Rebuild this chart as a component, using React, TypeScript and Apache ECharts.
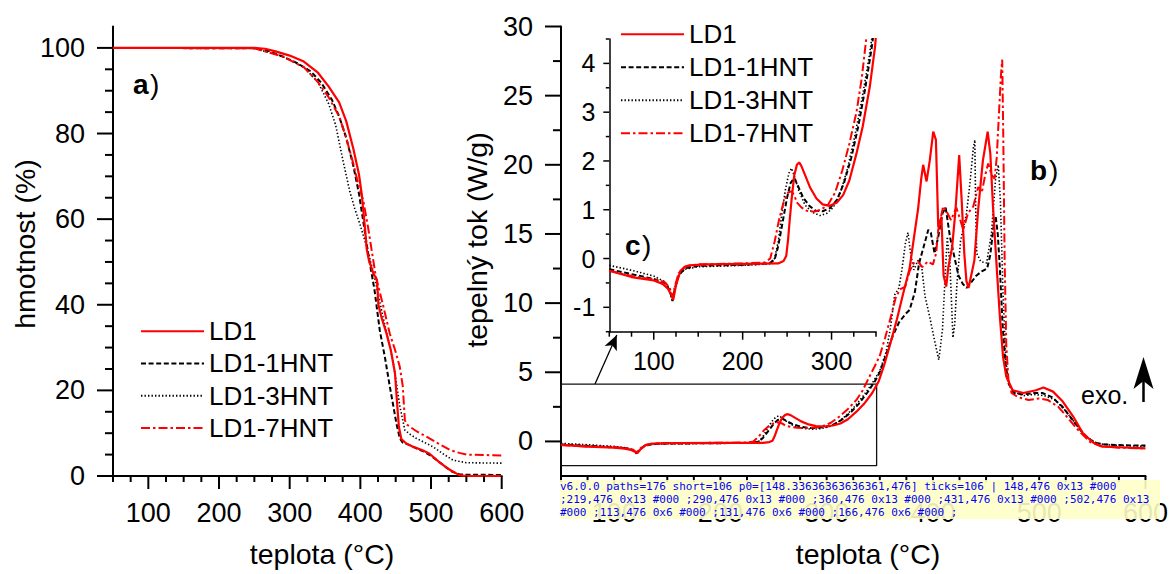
import React, { useEffect, useRef } from 'react';
import * as echarts from 'echarts';

const FONT = '"Liberation Sans", Arial, Helvetica, sans-serif';
const RED = '#ff0000';

const SAMPLE_NAMES = ['LD1', 'LD1-1HNT', 'LD1-3HNT', 'LD1-7HNT'];

// ---- Panel a: TGA (temperature °C, mass %) ----
const tgaLD1: number[][] = [[50,100],[250,100],[265,99.8],[280,99.2],[300,98.2],[320,96.8],[340,94.2],[355,91],[370,87.3],[380,82.9],[390,76.5],[398,70.5],[402,65.8],[406.5,58],[409,53],[412,50.5],[418,47.5],[423.5,45.8],[425.5,40],[430,37],[437,33.3],[443,29.5],[449,24],[452,17],[454.5,11.5],[458,8.6],[465,7.6],[475,6.8],[488,6],[498,5.2],[512,3.2],[526,1.5],[540,0.2],[550,0],[600,0]];
const tga1HNT: number[][] = [[50,100],[250,99.9],[270,99.3],[290,98],[310,96.5],[330,94.5],[345,91.8],[360,87.8],[370,84],[380,79],[390,72.5],[398,66],[405,58.5],[412,51],[420,43.5],[427.5,34],[435,27.5],[441.6,21],[447,16],[451,12.3],[455.8,8.8],[460,7.8],[470,7.2],[480,6.4],[490,5.7],[500,4.7],[510,3.5],[520,2.2],[530,1.0],[540,0.4],[550,0.3],[600,0.25]];
const tga3HNT: number[][] = [[50,100],[250,99.9],[290,98],[320,95.5],[340,92],[355,87],[365,82],[375,74],[385,66.5],[392,62.5],[400,58.5],[410,53],[420,46.5],[432,37.2],[446,27.1],[456,16.2],[463,10.7],[470,9.8],[479,8.8],[490,7.9],[503,6.8],[517,5.2],[531,3.7],[550,3.1],[600,3.0]];
const tga7HNT: number[][] = [[50,100],[250,99.9],[290,98],[320,95.5],[340,92],[355,88.5],[370,84],[380,79],[390,73],[398,67.5],[404,64.5],[411,58],[422,46.5],[432,40],[441.6,33.3],[449,29.5],[455.8,25.5],[460,21],[463,13],[466,12],[470,11.5],[480,10.4],[493.5,9.2],[510,7.6],[526.5,6.1],[540,5.4],[550,5.0],[600,4.8]];

// ---- Panels b / c: DSC (temperature °C, heat flow W/g) ----
const dscLD1: number[][] = [[50,-0.25],[75,-0.38],[100,-0.45],[110,-0.52],[116,-0.62],[120,-0.76],[122,-0.84],[125,-0.55],[130,-0.25],[135,-0.17],[140,-0.14],[160,-0.12],[200,-0.11],[240,-0.1],[246,-0.05],[249,0.05],[251,0.37],[253,0.8],[255,1.2],[258,1.7],[261,1.92],[263.5,1.97],[266,1.9],[270,1.72],[276,1.45],[283,1.23],[290,1.11],[298,1.08],[306,1.15],[313,1.3],[320,1.6],[328,2.15],[335,2.7],[343,3.52],[349,4.35],[354,5.5],[360,7.1],[366,8.8],[372,10.7],[378,12.5],[383,15.2],[386,16.8],[389,19.0],[390.8,20.0],[394,18.8],[397,20.3],[400.3,22.4],[402.8,21.8],[405,15.5],[408,16.2],[410,12.0],[412.5,11.2],[414.5,12.6],[418,14.0],[421,16.5],[424.7,20.7],[427,17.5],[429.5,13.6],[431.5,11.6],[433.5,11.1],[436,12.0],[439,13.1],[442.5,16.7],[447,20.3],[451.5,22.4],[454,20.8],[456.5,17.0],[460,12.6],[463,9.0],[466,6.1],[469,4.7],[475,3.7],[485,3.5],[497,3.7],[504,3.9],[513,3.6],[522,2.9],[532,1.8],[541,0.6],[551,-0.1],[560,-0.38],[575,-0.42],[600,-0.5]];
const dsc1HNT: number[][] = [[50,-0.22],[75,-0.32],[100,-0.42],[112,-0.5],[118,-0.65],[121,-0.87],[124,-0.6],[128,-0.35],[135,-0.2],[150,-0.15],[200,-0.13],[230,-0.1],[236,-0.02],[240,0.25],[245,0.75],[250,1.25],[254,1.55],[258,1.65],[262,1.5],[268,1.25],[275,1.08],[282,0.98],[290,0.97],[298,1.03],[306,1.2],[314,1.55],[322,2.05],[330,2.7],[338,3.5],[345,4.3],[350,5.0],[356,6.3],[362,7.6],[368,8.6],[374,9.2],[378,9.5],[383,10.8],[387,12.9],[391,14.0],[395.6,15.3],[398,15.1],[401.5,13.6],[405,14.8],[409,16.5],[412,16.9],[416,14.8],[420,13.4],[424,12.0],[428,11.4],[431.6,11.1],[436,11.5],[441,12.0],[446,12.3],[451,12.5],[454,13.5],[457,15.5],[459,16.3],[461,15.0],[463,12.5],[465.5,8.5],[468,5.8],[471,4.2],[476,3.5],[485,3.4],[495,3.5],[503,3.5],[512,3.2],[522,2.5],[532,1.5],[542,0.5],[552,-0.1],[562,-0.22],[580,-0.28],[600,-0.3]];
const dsc3HNT: number[][] = [[50,-0.14],[75,-0.24],[100,-0.36],[112,-0.47],[118,-0.62],[121,-0.88],[124,-0.6],[128,-0.35],[135,-0.22],[150,-0.17],[200,-0.14],[230,-0.11],[236,0.0],[240,0.35],[244,0.9],[248,1.4],[252,1.75],[255,1.85],[258,1.7],[263,1.4],[270,1.1],[278,0.95],[287,0.88],[295,0.93],[302,1.05],[310,1.35],[318,1.85],[326,2.5],[334,3.25],[342,4.1],[350,5.1],[356,6.5],[360,8.2],[364,10.6],[368,11.1],[371,12.5],[374,14.3],[376.5,15.1],[379,13.6],[382,12.4],[386,13.1],[389.5,12.6],[392.5,10.5],[397,9.0],[401.5,7.3],[405.5,5.9],[409,8.1],[411.5,12.0],[413.5,14.8],[416,12.8],[418.8,7.5],[420.5,8.5],[422.5,11.3],[426,14.5],[431.6,16.5],[435,18.8],[438,21.2],[439.4,21.8],[440.2,17.0],[441.2,13.6],[445,13.0],[450.5,12.9],[455,15.0],[459,19.0],[461.5,20.0],[463.5,17.4],[466,10.7],[468.5,6.0],[471,4.2],[476,3.6],[485,3.3],[495,3.4],[505,3.3],[515,3.0],[525,2.2],[535,1.2],[545,0.3],[555,-0.15],[565,-0.25],[580,-0.3],[600,-0.35]];
const dsc7HNT: number[][] = [[50,-0.25],[75,-0.36],[100,-0.43],[112,-0.48],[118,-0.6],[121,-0.8],[124,-0.55],[128,-0.3],[135,-0.17],[150,-0.12],[200,-0.1],[225,-0.08],[231,0.0],[236,0.35],[241,0.8],[246,1.15],[251,1.35],[255,1.38],[258,1.3],[261,1.15],[266,1.05],[272,0.98],[280,0.96],[288,1.0],[296,1.1],[304,1.35],[312,1.8],[320,2.35],[328,3.0],[334,3.7],[339,4.5],[345,5.4],[350,6.2],[355,7.5],[360,8.9],[365,10.4],[369,11.0],[374,11.2],[378,12.3],[382,12.9],[386,13.0],[390,12.6],[395,13.0],[400,12.8],[403,13.6],[405,15.3],[409.6,17.0],[413,16.6],[417,16.0],[422,16.9],[425,16.2],[428.5,15.3],[433,16.5],[438,17.0],[442.6,18.4],[446,18.0],[449,19.2],[452,20.1],[455,19.3],[458,19.0],[460,20.5],[462,23.5],[464,26.5],[465.2,27.6],[466.2,22],[467.5,13],[469,7],[471,4.5],[474,3.5],[480,3.2],[490,3.0],[500,3.1],[508,3.0],[518,2.5],[528,1.6],[538,0.7],[548,-0.05],[558,-0.35],[575,-0.45],[600,-0.5]];

// zoom frame (region of panel b magnified in c) and arrow to the inset
const frameBox: number[][] = [[50,4.15],[347,4.15],[347,-1.75],[50,-1.75],[50,4.15]];
const frameArrow: number[][] = [[82,4.15],[102.5,7.7]];

// ---- tick values ----
const tempMajorTicks = [100, 200, 300, 400, 500, 600];
const tempMinorTicks = [50, 75, 125, 150, 175, 225, 250, 275, 325, 350, 375, 425, 450, 475, 525, 550, 575];
const massMajorTicks = [0, 20, 40, 60, 80, 100];
const massMinorTicks = [5, 10, 15, 25, 30, 35, 45, 50, 55, 65, 70, 75, 85, 90, 95];
const flowMajorTicks = [0, 5, 10, 15, 20, 25, 30];
const flowMinorTicks = [2.5, 7.5, 12.5, 17.5, 22.5, 27.5];
const insetTempMajorTicks = [100, 200, 300];
const insetTempMinorTicks = [50, 75, 125, 150, 175, 225, 250, 275, 325, 350];
const insetFlowMajorTicks = [-1, 0, 1, 2, 3, 4];
const insetFlowMinorTicks = [-1.5, -0.5, 0.5, 1.5, 2.5, 3.5, 4.5];

const STYLES: Record<string, any> = {
  'LD1': { color: RED, type: 'solid', width: 2.2 },
  'LD1-1HNT': { color: '#000', type: [5, 2.6], width: 2 },
  'LD1-3HNT': { color: '#000', type: [1.4, 2.1], width: 1.6 },
  'LD1-7HNT': { color: RED, type: [9, 3, 2.5, 3], width: 2 },
};

function lineSeries(name: string, data: number[][], axisIndex: number) {
  return {
    type: 'line', name, data,
    xAxisIndex: axisIndex, yAxisIndex: axisIndex,
    symbol: 'none', showSymbol: false, clip: true,
    lineStyle: { ...STYLES[name] },
    itemStyle: { color: STYLES[name].color },
    z: name === 'LD1' ? 4 : 3,
    animation: false,
  };
}

function valueAxis(pos: string, gridIndex: number, min: number, max: number, labels: number[], margin: number, fontSize: number, width: number) {
  return {
    type: 'value', position: pos, gridIndex, min, max,
    axisLine: { show: true, onZero: false, lineStyle: { color: '#000', width } },
    axisTick: { show: false },
    axisLabel: { show: true, customValues: labels, margin, fontSize, fontFamily: FONT, color: '#000' },
    splitLine: { show: false },
  };
}

function textEl(text: string, x: number, y: number, size: number, opts: any = {}) {
  return {
    type: 'text', x, y, rotation: opts.rotation || 0, z: 10,
    style: {
      text, fontSize: size, fontFamily: FONT, fill: '#000',
      fontWeight: opts.bold ? 'bold' : 'normal',
      textAlign: opts.align || 'center', textVerticalAlign: 'middle',
    },
  };
}

const GRIDS = [
  { left: 113, top: 26.5, width: 388.7, height: 449.5 },
  { left: 561, top: 26.5, width: 584.7, height: 449.5 },
  { left: 609.3, top: 39, width: 266.7, height: 292.7 },
];
// axis extents per grid: [xMin, xMax, yMin, yMax]
const EXTENTS = [[50, 600, 0, 105], [50, 600, -2.5, 30], [50, 350, -1.5, 4.5]];

// tick sets per grid: [gridIndex, values, dim, length, width]
const TICK_SETS: [number, number[], 'x' | 'y', number, number][] = [
  [0, tempMajorTicks, 'x', 13, 2], [0, tempMinorTicks, 'x', 6, 2],
  [0, massMajorTicks, 'y', 16, 2], [0, massMinorTicks, 'y', 8, 2],
  [1, tempMajorTicks, 'x', 13, 2], [1, tempMinorTicks, 'x', 6, 2],
  [1, flowMajorTicks, 'y', 16, 2], [1, flowMinorTicks, 'y', 8, 2],
  [2, insetTempMajorTicks, 'x', 8, 1.5], [2, insetTempMinorTicks, 'x', 5, 1.5],
  [2, insetFlowMajorTicks, 'y', 6, 1.5], [2, insetFlowMinorTicks, 'y', 3.5, 1.5],
];

export default function App() {
  const ref = useRef<HTMLDivElement>(null);
  const dbgRef = useRef<HTMLDivElement>(null);
  useEffect(() => {
    if (!ref.current) return;
    const chart = echarts.init(ref.current, undefined, { renderer: 'svg' });
    const legendBase = {
      orient: 'vertical', data: SAMPLE_NAMES, itemWidth: 63, itemHeight: 14,
      itemGap: 0, padding: 0, selectedMode: false,
      itemStyle: { color: 'rgba(0,0,0,0)', borderWidth: 0, opacity: 0 },
    };
    const baseGraphics: any[] = [
      textEl('hmotnost (%)', 25, 244, 28.5, { rotation: Math.PI / 2 }),
      textEl('tepelný tok (W/g)', 477, 240, 28.5, { rotation: Math.PI / 2 }),
      textEl('teplota (°C)', 322, 554, 28.5),
      textEl('teplota (°C)', 868, 554, 28.5),
      textEl('a', 133, 84, 28, { bold: true, align: 'left' }),
      textEl(')', 150, 84, 28, { align: 'left' }),
      textEl('b', 1030, 170, 28, { bold: true, align: 'left' }),
      textEl(')', 1049, 170, 28, { align: 'left' }),
      textEl('c', 625, 245, 28, { bold: true, align: 'left' }),
      textEl(')', 642, 245, 28, { align: 'left' }),
      textEl('exo.', 1081, 395, 25, { align: 'left' }),
      { type: 'line', z: 10, shape: { x1: 1143.5, y1: 402, x2: 1143.5, y2: 378 }, style: { stroke: '#000', lineWidth: 2.5 } },
      { type: 'polygon', z: 10, shape: { points: [[1143.5, 357], [1133.5, 389], [1143.5, 381], [1153.5, 389]] }, style: { fill: '#000' } },
    ];
    chart.setOption({
      animation: false,
      backgroundColor: '#fff',
      grid: GRIDS,
      xAxis: [
        valueAxis('bottom', 0, 50, 600, tempMajorTicks, 23, 27, 2),
        valueAxis('bottom', 1, 50, 600, tempMajorTicks, 23, 27, 2),
        valueAxis('bottom', 2, 50, 350, insetTempMajorTicks, 17, 25, 1.5),
      ],
      yAxis: [
        valueAxis('left', 0, 0, 105, massMajorTicks, 28, 27, 2),
        valueAxis('left', 1, -2.5, 30, flowMajorTicks, 28, 27, 2),
        valueAxis('left', 2, -1.5, 4.5, insetFlowMajorTicks, 14, 25, 1.5),
      ],
      legend: [
        { ...legendBase, left: 140, top: 315, textStyle: { fontSize: 26, fontFamily: FONT, color: '#000', lineHeight: 32.3 } },
        { ...legendBase, left: 620, top: 17.8, textStyle: { fontSize: 26, fontFamily: FONT, color: '#000', lineHeight: 33 } },
      ],
      series: [
        lineSeries('LD1', tgaLD1, 0),
        lineSeries('LD1-1HNT', tga1HNT, 0),
        lineSeries('LD1-3HNT', tga3HNT, 0),
        lineSeries('LD1-7HNT', tga7HNT, 0),
        lineSeries('LD1', dscLD1, 1),
        lineSeries('LD1-1HNT', dsc1HNT, 1),
        lineSeries('LD1-3HNT', dsc3HNT, 1),
        lineSeries('LD1-7HNT', dsc7HNT, 1),
        lineSeries('LD1', dscLD1, 2),
        lineSeries('LD1-1HNT', dsc1HNT, 2),
        lineSeries('LD1-3HNT', dsc3HNT, 2),
        lineSeries('LD1-7HNT', dsc7HNT, 2),
        {
          type: 'line', name: 'frame', data: frameBox, xAxisIndex: 1, yAxisIndex: 1,
          symbol: 'none', clip: false, z: 2, animation: false,
          lineStyle: { color: '#111', width: 1.3 },
          markLine: {
            silent: true, animation: false, symbol: ['none', 'arrow'], symbolSize: [10, 15],
            lineStyle: { color: '#000', width: 1.3, type: 'solid' },
            label: { show: false },
            data: [[{ coord: frameArrow[0] }, { coord: frameArrow[1] }]],
          },
        },
      ],
      graphic: baseGraphics,
    });

    const toPixel = (gi: number, pt: number[]): number[] => {
      let p: any = null;
      try { p = chart.convertToPixel({ gridIndex: gi }, pt); } catch (e) { p = null; }
      if (Array.isArray(p) && isFinite(p[0]) && isFinite(p[1])) return p;
      const g = GRIDS[gi];
      const [x0, x1, y0, y1] = EXTENTS[gi];
      return [g.left + ((pt[0] - x0) / (x1 - x0)) * g.width, g.top + g.height - ((pt[1] - y0) / (y1 - y0)) * g.height];
    };
    const tickEls: any[] = [];
    TICK_SETS.forEach(([gi, values, dim, len, w]) => {
      const [x0, , y0] = EXTENTS[gi];
      values.forEach((v) => {
        const p = toPixel(gi, dim === 'x' ? [v, y0] : [x0, v]);
        const shape = dim === 'x'
          ? { x1: p[0], y1: p[1], x2: p[0], y2: p[1] + len }
          : { x1: p[0], y1: p[1], x2: p[0] - len, y2: p[1] };
        tickEls.push({ type: 'line', z: 20, silent: true, shape, style: { stroke: '#000', lineWidth: w } });
      });
    });
    chart.setOption({ graphic: [...baseGraphics, ...tickEls] });

    // temporary diagnostics
    const t = setTimeout(() => {
      try {
        const svg = ref.current!.querySelector('svg')!;
        const paths = Array.from(svg.querySelectorAll('path'));
        let short = 0; let sample = '';
        paths.forEach((p: any) => {
          const b = p.getBBox();
          if ((b.width < 1.5 && b.height > 2 && b.height < 20) || (b.height < 1.5 && b.width > 2 && b.width < 20)) {
            short++;
            if (sample.length < 160) sample += `${b.x.toFixed(0)},${b.y.toFixed(0)} ${b.width.toFixed(0)}x${b.height.toFixed(0)} ${p.getAttribute('stroke')} ${p.getAttribute('transform') || ''};`;
          }
        });
        const p0 = chart.convertToPixel({ gridIndex: 0 }, [100, 0]);
        if (dbgRef.current) dbgRef.current.textContent = `v${(echarts as any).version} paths=${paths.length} short=${short} p0=${JSON.stringify(p0)} ticks=${tickEls.length} | ${sample}`;
      } catch (e: any) {
        if (dbgRef.current) dbgRef.current.textContent = 'ERR ' + String(e && e.message);
      }
    }, 400);

    return () => { clearTimeout(t); chart.dispose(); };
  }, []);
  return (
    <>
      <div ref={ref} style={{ position: 'absolute', left: 0, top: 0, width: 1171, height: 574 }} />
      <div ref={dbgRef} style={{ position: 'absolute', left: 560, top: 480, width: 600, fontSize: 11, fontFamily: 'monospace', color: '#00f', background: 'rgba(255,255,200,0.9)' }} />
    </>
  );
}
